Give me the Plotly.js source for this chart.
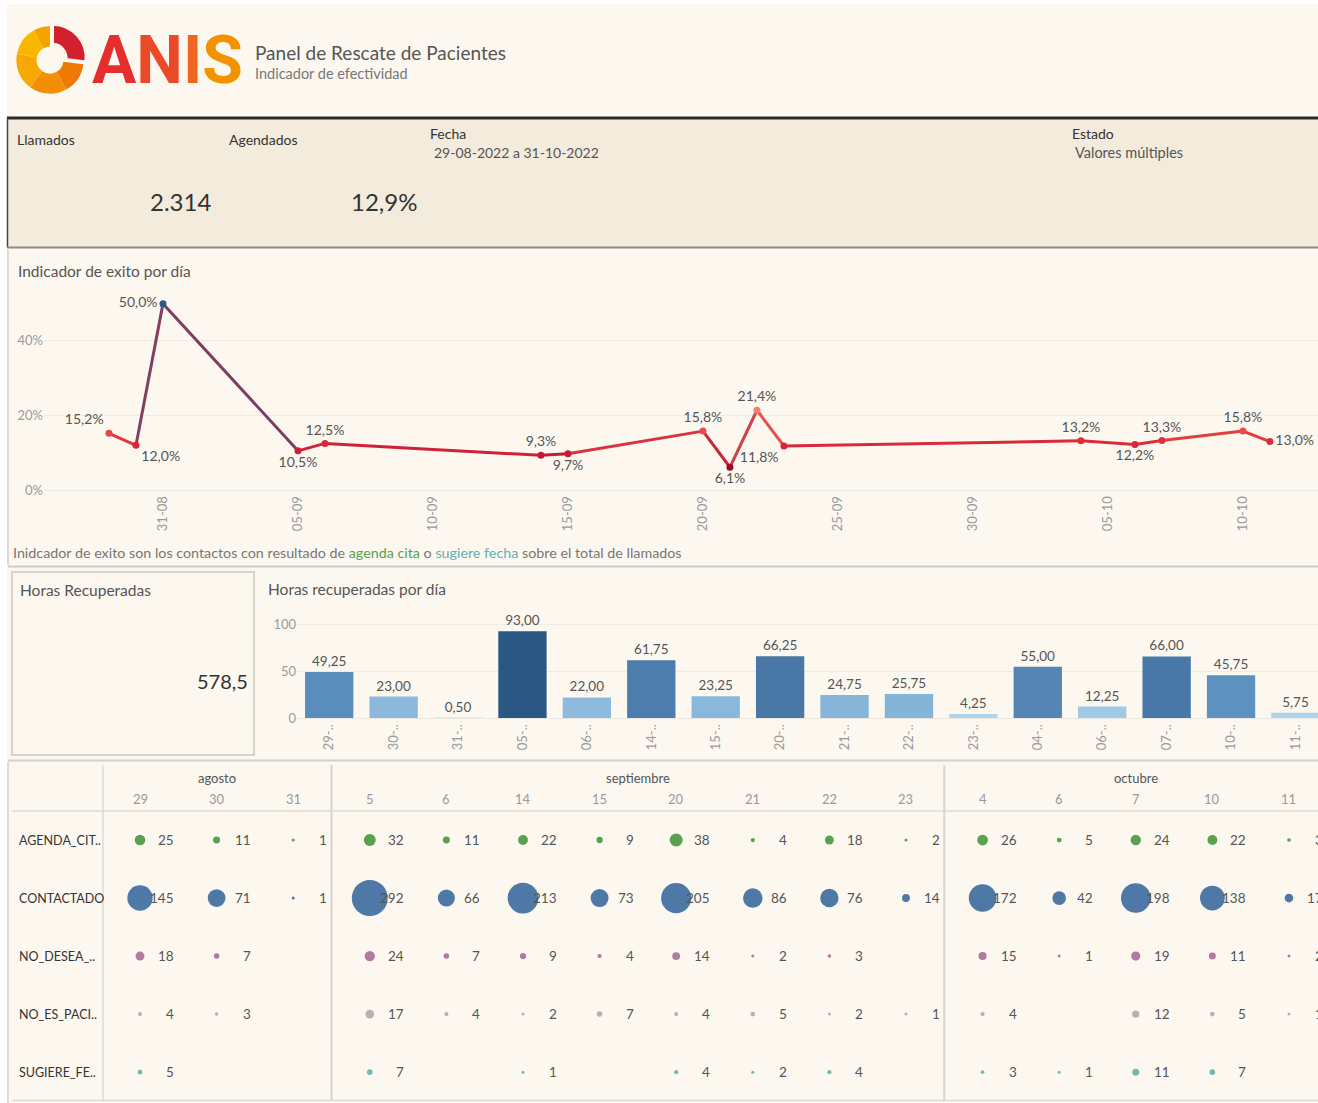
<!DOCTYPE html>
<html><head><meta charset="utf-8">
<script src="https://cdn.plot.ly/plotly-3.0.1.min.js"></script>
<style>html,body{margin:0;padding:0;background:#fff;}#chart{width:1318px;height:1103px;}</style>
</head><body><div id="chart"></div>
<script>
// ---------------- DATA ----------------
const dashTitle = 'Panel de Rescate de Pacientes';
const dashSubtitle = 'Indicador de efectividad';
const logoText = ['A','N','I','S'];
const kpiLabels = ['Llamados','Agendados'];
const kpiValues = ['2.314','12,9%'];
const filterLabels = ['Fecha','Estado'];
const filterValues = ['29-08-2022 a 31-10-2022','Valores múltiples'];

const lineTitle = 'Indicador de exito por día';
const lineDates = ['2022-08-29','2022-08-30','2022-08-31','2022-09-05','2022-09-06','2022-09-14','2022-09-15','2022-09-20','2022-09-21','2022-09-22','2022-09-23','2022-10-04','2022-10-06','2022-10-07','2022-10-10','2022-10-11'];
const lineRates = [0.152,0.120,0.500,0.105,0.125,0.093,0.097,0.158,0.061,0.214,0.118,0.132,0.122,0.133,0.158,0.130];
const lineYTicks = [0,0.2,0.4];
const lineYTickText = ['0%','20%','40%'];
const captionParts = ['Inidcador de exito son los contactos con resultado de ','agenda cita',' o ','sugiere fecha',' sobre el total de llamados'];

const horasLabel = 'Horas Recuperadas';
const horasTotal = '578,5';
const barTitle = 'Horas recuperadas por día';
const barDays = ['29-08','30-08','31-08','05-09','06-09','14-09','15-09','20-09','21-09','22-09','23-09','04-10','06-10','07-10','10-10','11-10'];
const barHours = [49.25,23.00,0.50,93.00,22.00,61.75,23.25,66.25,24.75,25.75,4.25,55.00,12.25,66.00,45.75,5.75];
const barYTicks = [0,50,100];

const tableMonths = ['agosto','agosto','agosto','septiembre','septiembre','septiembre','septiembre','septiembre','septiembre','septiembre','septiembre','octubre','octubre','octubre','octubre','octubre'];
const tableDays = [29,30,31,5,6,14,15,20,21,22,23,4,6,7,10,11];
const tableRows = ['AGENDA_CIT..','CONTACTADO','NO_DESEA_..','NO_ES_PACI..','SUGIERE_FE..'];
const agendaCita   = [25,11,1,32,11,22,9,38,4,18,2,26,5,24,22,3];
const contactado   = [145,71,1,292,66,213,73,205,86,76,14,172,42,198,138,17];
const noDesea      = [18,7,null,24,7,9,4,14,2,3,null,15,1,19,11,2];
const noEsPaciente = [4,3,null,17,4,2,7,4,5,2,1,4,null,12,5,1];
const sugiereFecha = [5,null,null,7,null,1,null,4,2,4,null,3,1,11,7,null];

// ---------------- STYLE / LAYOUT HELPERS ----------------
const W = 1318, H = 1103;
const X = p => p / W;
const Y = p => 1 - p / H;
const FONT = 'Lato, "Open Sans", sans-serif';
const rowColors = ['#59a14f','#4e79a7','#b07aa1','#bab0ac','#76b7b2'];
const rowSeries = [agendaCita, contactado, noDesea, noEsPaciente, sugiereFecha];

const rateStops = [[0.06,[160,8,44]],[0.10,[203,27,56]],[0.13,[221,43,58]],[0.16,[236,78,72]],[0.22,[245,134,108]],[0.50,[43,90,135]]];
function rateColor(v){
  for (let k = 0; k < rateStops.length - 1; k++){
    const [a, ca] = rateStops[k], [b, cb] = rateStops[k+1];
    if (v <= b){ const t = Math.max(0, (v - a) / (b - a)); return ca.map((c, j) => Math.round(c + (cb[j] - c) * t)); }
  }
  return rateStops[rateStops.length - 1][1];
}
const rgb = c => `rgb(${c.join(',')})`;
const pct = v => (v * 100).toFixed(1).replace('.', ',') + '%';
const dec2 = v => v.toFixed(2).replace('.', ',');
const labelPos = ['top left','bottom right','middle left','bottom center','top center','top center','bottom center','top center','bottom center','top center','bottom left','top center','bottom center','top center','top center','middle right'];

const traces = [];
const annotations = [];
const shapes = [];
const txt = (t, x, y, anchor, size, color, extra) => annotations.push(Object.assign({
  xref:'paper', yref:'paper', x:X(x), y:Y(y), xanchor:anchor, yanchor:'middle', showarrow:false, text:t,
  font:{family:FONT, size:size, color:color} }, extra || {}));

// ---------------- LOGO ----------------
traces.push({
  type: 'pie', values: [27, 15, 18, 18, 14, 8], sort: false, direction: 'clockwise', rotation: 0,
  hole: 0.4, pull: [0.1, 0, 0, 0, 0, 0], textinfo: 'none', hoverinfo: 'skip',
  marker: { colors: ['#d3202e','#ee7a05','#f28f04','#f6a902','#f9b700','#f4a300'],
            line: { color: '#fcf8f0', width: [3, 0, 0, 0, 0, 0] } },
  domain: { x: [X(13), X(87)], y: [Y(98), Y(22)] }, showlegend: false
});
const logoColors = ['#e52f2f','#ea4a27','#ee661f','#f39200'];
txt('<b>' + logoText.map((c, i) => `<span style="color:${logoColors[i]}">${c}</span>`).join('') + '</b>', 90, 61, 'left', 66, '#e52f2f', {font:{family:'Roboto, sans-serif', size:66}});
txt(dashTitle, 253, 52, 'left', 19, '#555');
txt(dashSubtitle, 253, 74, 'left', 14.5, '#777');

// ---------------- BACKGROUNDS / PANELS ----------------
shapes.push({ type:'rect', xref:'paper', yref:'paper', x0:X(7), x1:1, y0:0, y1:Y(4), fillcolor:'#fcf8f0', line:{width:0}, layer:'below' });
shapes.push({ type:'rect', xref:'paper', yref:'paper', x0:X(7), x1:1, y0:Y(248), y1:Y(118), fillcolor:'#f3ecdc', line:{width:0}, layer:'below' });
shapes.push({ type:'line', xref:'paper', yref:'paper', x0:X(7), x1:1, y0:Y(118), y1:Y(118), line:{color:'#2b2b2b', width:3} });
shapes.push({ type:'line', xref:'paper', yref:'paper', x0:X(7.5), x1:X(7.5), y0:Y(248), y1:Y(118), line:{color:'#444', width:1.5} });
shapes.push({ type:'line', xref:'paper', yref:'paper', x0:X(7), x1:1, y0:Y(247.5), y1:Y(247.5), line:{color:'#8c8a85', width:2} });
shapes.push({ type:'line', xref:'paper', yref:'paper', x0:X(8), x1:X(8), y0:Y(565), y1:Y(250), line:{color:'#d4d1ca', width:1.5} });
shapes.push({ type:'line', xref:'paper', yref:'paper', x0:X(8), x1:1, y0:Y(566.5), y1:Y(566.5), line:{color:'#cdcac3', width:2} });
shapes.push({ type:'rect', xref:'paper', yref:'paper', x0:X(12), x1:X(254), y0:Y(755), y1:Y(572), line:{color:'#c9c6bf', width:1.5} });
shapes.push({ type:'line', xref:'paper', yref:'paper', x0:X(8), x1:1, y0:Y(760.5), y1:Y(760.5), line:{color:'#d3d0c9', width:2} });
shapes.push({ type:'line', xref:'paper', yref:'paper', x0:X(8), x1:X(8), y0:Y(1103), y1:Y(762), line:{color:'#d4d1ca', width:1.5} });
shapes.push({ type:'line', xref:'paper', yref:'paper', x0:X(103), x1:X(103), y0:Y(1100), y1:Y(765), line:{color:'#dedbd4', width:1.5} });
shapes.push({ type:'line', xref:'paper', yref:'paper', x0:X(12), x1:1, y0:Y(811), y1:Y(811), line:{color:'#dedbd4', width:1.5} });
shapes.push({ type:'line', xref:'paper', yref:'paper', x0:X(12), x1:1, y0:Y(1100.5), y1:Y(1100.5), line:{color:'#dedbd4', width:1.5} });

// ---------------- KPI BAND ----------------
txt(kpiLabels[0], 15, 140, 'left', 14, '#333');
txt(kpiLabels[1], 227, 140, 'left', 14, '#333');
txt(filterLabels[0], 428, 134, 'left', 14, '#333');
txt(filterLabels[1], 1070, 134, 'left', 14, '#333');
txt(filterValues[0], 432, 153, 'left', 14, '#555');
txt(filterValues[1], 1073, 153, 'left', 14.5, '#555');
txt(kpiValues[0], 181, 202, 'center', 24, '#333');
txt(kpiValues[1], 384, 202, 'center', 24, '#333');

// ---------------- LINE CHART ----------------
txt(lineTitle, 16, 271, 'left', 15.5, '#555');
for (let i = 0; i < lineDates.length - 1; i++){
  const a = rateColor(lineRates[i]), b = rateColor(lineRates[i+1]);
  const mix = a.map((c, j) => Math.round((c + b[j]) / 2));
  traces.push({ type:'scatter', mode:'lines', x:[lineDates[i], lineDates[i+1]], y:[lineRates[i], lineRates[i+1]],
    xaxis:'x', yaxis:'y', line:{color:rgb(mix), width:3}, hoverinfo:'skip', showlegend:false });
}
traces.push({ type:'scatter', mode:'markers+text', x:lineDates, y:lineRates, xaxis:'x', yaxis:'y',
  marker:{ size:7, color:lineRates.map(v => rgb(rateColor(v))) },
  text: lineRates.map(pct), textposition: labelPos, textfont:{family:FONT, size:14, color:'#555'},
  cliponaxis:false, hoverinfo:'skip', showlegend:false });
txt(captionParts[0] + `<span style="color:#59a14f">${captionParts[1]}</span>` + captionParts[2] + `<span style="color:#5fb2b0">${captionParts[3]}</span>` + captionParts[4],
  11, 552, 'left', 14.3, '#777');

// ---------------- HORAS KPI + BAR CHART ----------------
txt(horasLabel, 18, 590, 'left', 15.5, '#555');
txt(horasTotal, 250, 681, 'right', 20, '#333');
txt(barTitle, 266, 589, 'left', 15.5, '#555');
traces.push({ type:'bar', x:barDays, y:barHours, xaxis:'x2', yaxis:'y2',
  marker:{ color:barHours, cmin:0, cmax:93, colorscale:[[0,'#b9dbf1'],[0.25,'#8ab8dc'],[0.5,'#5d90bf'],[0.7,'#4a79a9'],[1,'#2a5783']], line:{width:0} },
  text: barHours.map(dec2), textposition:'outside', textfont:{family:FONT, size:13.5, color:'#555'}, cliponaxis:false,
  hoverinfo:'skip', showlegend:false });

// ---------------- BUBBLE TABLE ----------------
const cols = tableDays.map((d, i) => i);
rowSeries.forEach((series, r) => {
  const xs = [], ys = [], ss = [];
  series.forEach((v, c) => { if (v !== null){ xs.push(c); ys.push(r); ss.push(v);
    annotations.push({ xref:'x3', yref:'y3', x:c, y:r, xshift:36, xanchor:'right', yanchor:'middle', showarrow:false, text:String(v), font:{family:FONT, size:13.5, color:'#555'} }); } });
  traces.push({ type:'scatter', mode:'markers', x:xs, y:ys, xaxis:'x3', yaxis:'y3',
    marker:{ size:ss, sizemode:'area', sizeref:2*292/(36*36), sizemin:1.5, color:rowColors[r], line:{width:0}, opacity:1 },
    hoverinfo:'skip', showlegend:false, cliponaxis:false });
  annotations.push({ xref:'paper', yref:'y3', x:X(17), y:r, xanchor:'left', yanchor:'middle', showarrow:false, text:tableRows[r], font:{family:FONT, size:12.5, color:'#333'} });
});
cols.forEach(c => annotations.push({ xref:'x3', yref:'paper', x:c, y:Y(799), xanchor:'center', yanchor:'middle', showarrow:false, text:String(tableDays[c]), font:{family:FONT, size:13, color:'#999'} }));
const monthNames = [...new Set(tableMonths)];
monthNames.forEach(m => {
  const idx = cols.filter(c => tableMonths[c] === m);
  annotations.push({ xref:'x3', yref:'paper', x:(idx[0] + idx[idx.length-1]) / 2, y:Y(778), xanchor:'center', yanchor:'middle', showarrow:false, text:m, font:{family:FONT, size:13, color:'#555'} });
  if (idx[0] > 0) shapes.push({ type:'line', xref:'x3', yref:'paper', x0:idx[0]-0.5, x1:idx[0]-0.5, y0:Y(1100), y1:Y(765), line:{color:'#d8d5ce', width:2} });
});

// ---------------- LAYOUT ----------------
const tickFont = {family:FONT, size:13, color:'#9a9a9a'};
const layout = {
  width: W, height: H, margin:{l:0,r:0,t:0,b:0},
  paper_bgcolor:'#ffffff', plot_bgcolor:'rgba(0,0,0,0)', showlegend:false, hovermode:false,
  font:{family:FONT},
  bargap: 0.25,
  xaxis:{ type:'date', domain:[X(44),1], range:['2022-08-26 14:14','2022-10-12 18:43'], anchor:'y',
    tickformat:'%d-%m', tick0:'2022-08-31', dtick:5*86400000, tickangle:-90, tickfont:tickFont,
    showgrid:false, zeroline:false, showline:true, linecolor:'#ebe8e1', ticks:'' },
  yaxis:{ domain:[Y(490),Y(285)], range:[0,0.55], anchor:'x', tickvals:lineYTicks, ticktext:lineYTickText, tickfont:tickFont,
    showgrid:true, gridcolor:'#efebe3', zeroline:false, showline:false, ticks:'' },
  xaxis2:{ type:'category', domain:[X(297),1], range:[-0.5,15.35], anchor:'y2', tickvals:barDays, ticktext:barDays.map(d => d.slice(0,3) + '..'),
    tickangle:-90, tickfont:tickFont, showgrid:false, zeroline:false, showline:true, linecolor:'#ebe8e1', ticks:'' },
  yaxis2:{ domain:[Y(718),Y(606)], range:[0,120], anchor:'x2', tickvals:barYTicks, tickfont:tickFont,
    showgrid:true, gridcolor:'#efebe3', zeroline:false, ticks:'' },
  xaxis3:{ domain:[X(103),1], range:[-0.483,15.379], anchor:'y3', visible:false },
  yaxis3:{ domain:[Y(1100),Y(811)], range:[4.48,-0.5], anchor:'x3', visible:false },
  shapes, annotations
};
Plotly.newPlot('chart', traces, layout, {staticPlot:true, displayModeBar:false});
</script>
</body></html>
